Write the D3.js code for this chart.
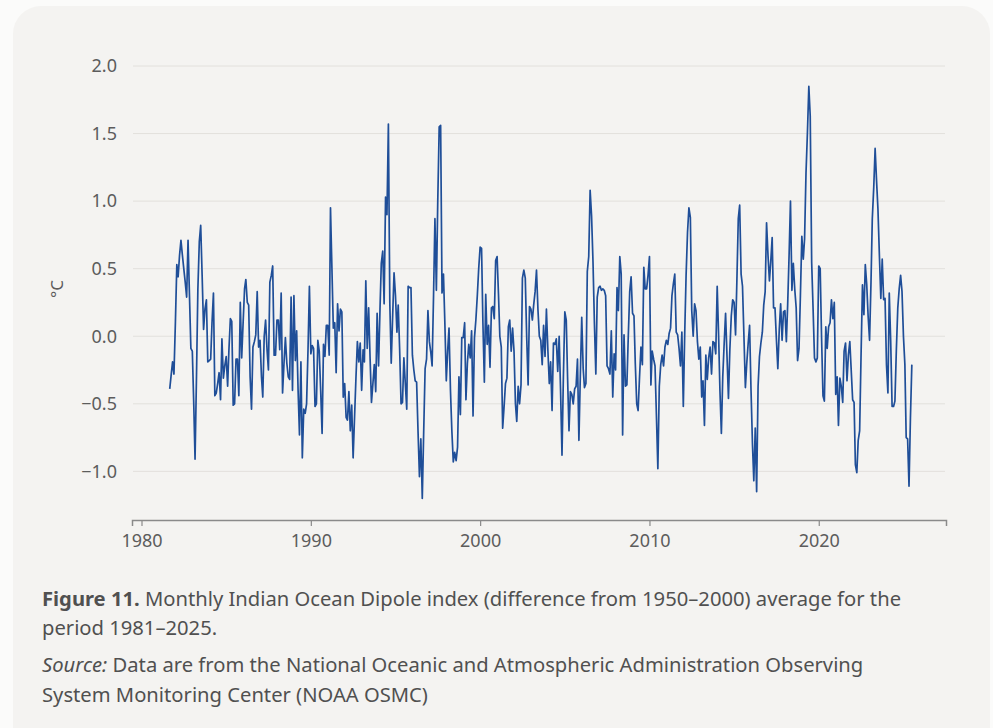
<!DOCTYPE html>
<html>
<head>
<meta charset="utf-8">
<script src="https://cdn.jsdelivr.net/npm/d3@7"></script>
<style>
  html, body { margin: 0; padding: 0; background: #fbfbfa; }
  svg { display: block; }
</style>
</head>
<body>
<svg id="chart" width="993" height="728"></svg>
<script>
// monthly IOD index, first value is September 1981
const startYear = 1981
const startMonth = 8
const iodValues = [
  -0.39, -0.29, -0.19, -0.28, 0.10, 0.53, 0.44, 0.60, 0.71, 0.60, 0.50, 0.40,
  0.29, 0.71, 0.30, -0.09, -0.11, -0.50, -0.91, -0.30, 0.35, 0.70, 0.82, 0.45,
  0.05, 0.20, 0.27, -0.19, -0.18, -0.17, 0.10, 0.32, -0.44, -0.42, -0.35, -0.27,
  -0.47, -0.02, -0.31, -0.22, -0.15, -0.37, -0.10, 0.13, 0.11, -0.51, -0.50, -0.17,
  -0.17, -0.44, 0.25, -0.16, 0.10, 0.35, 0.42, 0.25, 0.23, -0.30, -0.54, -0.08,
  -0.04, 0.01, 0.33, -0.08, -0.03, -0.30, -0.45, 0.00, 0.12, -0.10, -0.25, 0.40,
  0.45, 0.52, -0.14, -0.14, 0.12, 0.12, -0.10, 0.32, -0.42, -0.20, -0.01, -0.20,
  -0.30, -0.32, 0.29, -0.40, 0.30, -0.18, 0.04, -0.40, -0.73, -0.19, -0.90, -0.54,
  -0.57, -0.50, -0.10, 0.37, -0.13, -0.07, -0.09, -0.52, -0.50, -0.03, -0.11, -0.40,
  -0.72, -0.06, -0.15, 0.08, 0.08, -0.14, 0.95, 0.50, 0.06, 0.10, -0.27, 0.24,
  0.04, 0.20, 0.18, -0.45, -0.35, -0.60, -0.62, -0.41, -0.70, -0.51, -0.90, -0.60,
  -0.30, -0.04, -0.19, -0.05, -0.40, -0.10, -0.19, 0.41, -0.09, 0.21, -0.15, -0.49,
  -0.35, -0.21, -0.41, 0.17, -0.22, 0.20, 0.54, 0.63, 0.24, 1.03, 0.90, 1.57,
  0.24, -0.20, 0.15, 0.47, 0.30, 0.03, 0.23, -0.10, -0.50, -0.49, -0.16, -0.35,
  -0.54, 0.37, 0.36, 0.36, -0.14, -0.25, -0.33, -0.34, -0.70, -1.04, -0.76, -1.20,
  -0.70, -0.24, -0.17, 0.19, -0.04, -0.12, -0.22, 0.30, 0.87, 0.34, 1.00, 1.55,
  1.56, 0.32, 0.46, 0.10, -0.33, -0.10, 0.06, -0.40, -0.70, -0.93, -0.86, -0.92,
  -0.82, -0.30, -0.58, -0.01, -0.01, 0.10, -0.47, -0.20, -0.06, -0.16, 0.04, -0.59,
  -0.01, 0.12, 0.30, 0.50, 0.66, 0.65, 0.10, -0.34, 0.31, -0.06, 0.08, -0.23,
  0.21, 0.22, 0.13, 0.56, 0.59, 0.30, 0.00, -0.08, -0.68, -0.52, -0.35, -0.31,
  0.07, 0.12, -0.11, 0.06, -0.11, -0.50, -0.63, -0.37, -0.50, -0.36, 0.43, 0.49,
  0.43, 0.00, -0.36, 0.22, 0.20, 0.12, 0.23, 0.33, 0.49, 0.20, 0.00, -0.03,
  -0.21, 0.08, -0.15, 0.20, -0.10, -0.35, -0.19, -0.55, -0.05, -0.06, -0.02, -0.26,
  0.00, -0.40, -0.88, -0.30, 0.18, 0.12, -0.30, -0.70, -0.41, -0.43, -0.50, -0.39,
  -0.37, -0.17, -0.77, -0.30, 0.14, -0.24, -0.38, -0.35, 0.48, 0.59, 1.08, 0.89,
  0.55, 0.10, -0.28, 0.29, 0.36, 0.37, 0.34, 0.35, 0.34, 0.30, -0.22, -0.24,
  -0.28, 0.04, -0.45, -0.13, -0.25, 0.36, 0.19, 0.59, 0.46, -0.73, 0.01, -0.37,
  -0.36, 0.00, 0.33, 0.44, 0.17, 0.15, -0.20, -0.50, -0.55, -0.30, -0.08, -0.21,
  0.51, 0.35, 0.35, 0.45, 0.59, -0.36, -0.11, -0.17, -0.22, -0.60, -0.98, -0.37,
  -0.21, -0.14, -0.22, -0.08, -0.03, -0.06, 0.02, 0.06, 0.30, 0.39, 0.46, 0.03,
  0.01, -0.09, -0.22, 0.03, -0.52, 0.03, 0.45, 0.77, 0.95, 0.88, 0.19, 0.00,
  0.24, 0.19, -0.04, -0.17, -0.08, -0.45, -0.33, -0.66, -0.14, -0.32, -0.16, -0.08,
  -0.28, -0.04, -0.05, -0.13, 0.37, 0.00, -0.40, -0.72, -0.30, -0.05, 0.17, -0.15,
  -0.46, -0.10, 0.15, 0.27, 0.25, 0.01, 0.40, 0.87, 0.97, 0.46, 0.37, 0.00,
  -0.38, -0.20, -0.05, 0.08, -0.40, -0.80, -1.07, -0.68, -1.15, -0.37, -0.15, -0.05,
  0.03, 0.23, 0.33, 0.84, 0.60, 0.41, 0.55, 0.73, 0.21, 0.21, -0.02, -0.24,
  0.05, 0.24, -0.03, 0.18, 0.19, -0.04, 0.23, 0.60, 1.00, 0.34, 0.54, 0.35,
  0.21, -0.18, -0.09, 0.30, 0.74, 0.57, 0.72, 1.21, 1.50, 1.85, 1.63, 0.55,
  0.20, -0.16, -0.19, -0.16, 0.52, 0.50, 0.00, -0.44, -0.48, 0.07, -0.09, 0.07,
  0.10, 0.27, 0.13, 0.25, -0.43, -0.30, -0.66, -0.31, -0.37, -0.49, -0.11, -0.05,
  -0.33, -0.14, -0.04, -0.25, -0.47, -0.49, -0.95, -1.01, -0.77, -0.70, -0.15, 0.38,
  0.16, 0.53, 0.38, 0.15, -0.03, 0.40, 0.87, 1.10, 1.39, 1.15, 0.94, 0.60,
  0.28, 0.57, 0.27, 0.28, -0.21, -0.42, 0.32, -0.04, -0.52, -0.52, -0.48, -0.10,
  0.21, 0.35, 0.45, 0.33, 0.00, -0.21, -0.75, -0.76, -1.11, -0.60, -0.21
]
const yTicks = [-1.0, -0.5, 0.0, 0.5, 1.0, 1.5, 2.0]
const xTickYears = [1980, 1990, 2000, 2010, 2020]
const yLabel = '°C'
const captionLines = [
  [{ t: 'Figure 11.', w: 'bold' }, { t: ' Monthly Indian Ocean Dipole index (difference from 1950–2000) average for the' }],
  [{ t: 'period 1981–2025.' }],
  [{ t: 'Source:', s: 'italic' }, { t: ' Data are from the National Oceanic and Atmospheric Administration Observing' }],
  [{ t: 'System Monitoring Center (NOAA OSMC)' }]
]

const data = iodValues.map((v, i) => ({ date: new Date(startYear, startMonth + i, 1), value: v }))

const svg = d3.select('#chart')
const tickFont = '"Noto Sans", sans-serif'

// card
svg.append('rect')
  .attr('x', 13).attr('y', 6)
  .attr('width', 977).attr('height', 780)
  .attr('rx', 28)
  .attr('fill', '#f4f3f1')

const x = d3.scaleTime()
  .domain([new Date(1979, 5, 10), new Date(2027, 6, 8)])
  .range([132, 946])

const y = d3.scaleLinear()
  .domain([-1.36, 2.0])
  .range([520, 66])

// grid
svg.append('g')
  .selectAll('line')
  .data(yTicks)
  .enter().append('line')
  .attr('x1', 133).attr('x2', 945)
  .attr('y1', d => y(d)).attr('y2', d => y(d))
  .attr('stroke', '#e2e0dc')
  .attr('stroke-width', 1)

// y labels
svg.append('g')
  .selectAll('text')
  .data(yTicks)
  .enter().append('text')
  .attr('x', 117)
  .attr('y', d => y(d))
  .attr('dy', '0.35em')
  .attr('text-anchor', 'end')
  .style('font-family', tickFont)
  .style('font-size', '18px')
  .style('fill', '#5c5c5c')
  .text(d => d < 0 ? '−' + d3.format('.1f')(-d) : d3.format('.1f')(d))

svg.append('text')
  .attr('transform', 'translate(63,' + y(0.35) + ') rotate(-90)')
  .attr('text-anchor', 'middle')
  .style('font-family', tickFont)
  .style('font-size', '17px')
  .style('fill', '#5c5c5c')
  .text(yLabel)

// x axis
const xAxis = d3.axisBottom(x)
  .tickValues(xTickYears.map(yr => new Date(yr, 0, 1)))
  .tickFormat(d3.timeFormat('%Y'))
  .tickSize(6)
  .tickPadding(8)

const gx = svg.append('g')
  .attr('transform', 'translate(0,520)')
  .call(xAxis)
gx.select('.domain').attr('stroke', '#8a8a8a').attr('stroke-width', 1.5)
gx.selectAll('.tick line').attr('stroke', '#8a8a8a').attr('stroke-width', 1.2)
gx.selectAll('.tick text')
  .style('font-family', tickFont)
  .style('font-size', '18px')
  .style('fill', '#5c5c5c')

// series
const line = d3.line()
  .x(d => x(d.date))
  .y(d => y(d.value))

svg.append('path')
  .datum(data)
  .attr('d', line)
  .attr('fill', 'none')
  .attr('stroke', '#1f4e98')
  .attr('stroke-width', 1.7)
  .attr('stroke-linejoin', 'round')

// caption
const captionY = [606, 635, 672, 702]
captionLines.forEach((parts, i) => {
  const t = svg.append('text')
    .attr('x', 42)
    .attr('y', captionY[i])
    .style('font-family', tickFont)
    .style('font-size', '20.2px')
    .style('fill', '#505050')
  parts.forEach(p => {
    t.append('tspan')
      .style('font-weight', p.w || 'normal')
      .style('font-style', p.s || 'normal')
      .text(p.t)
  })
})
</script>
</body>
</html>
